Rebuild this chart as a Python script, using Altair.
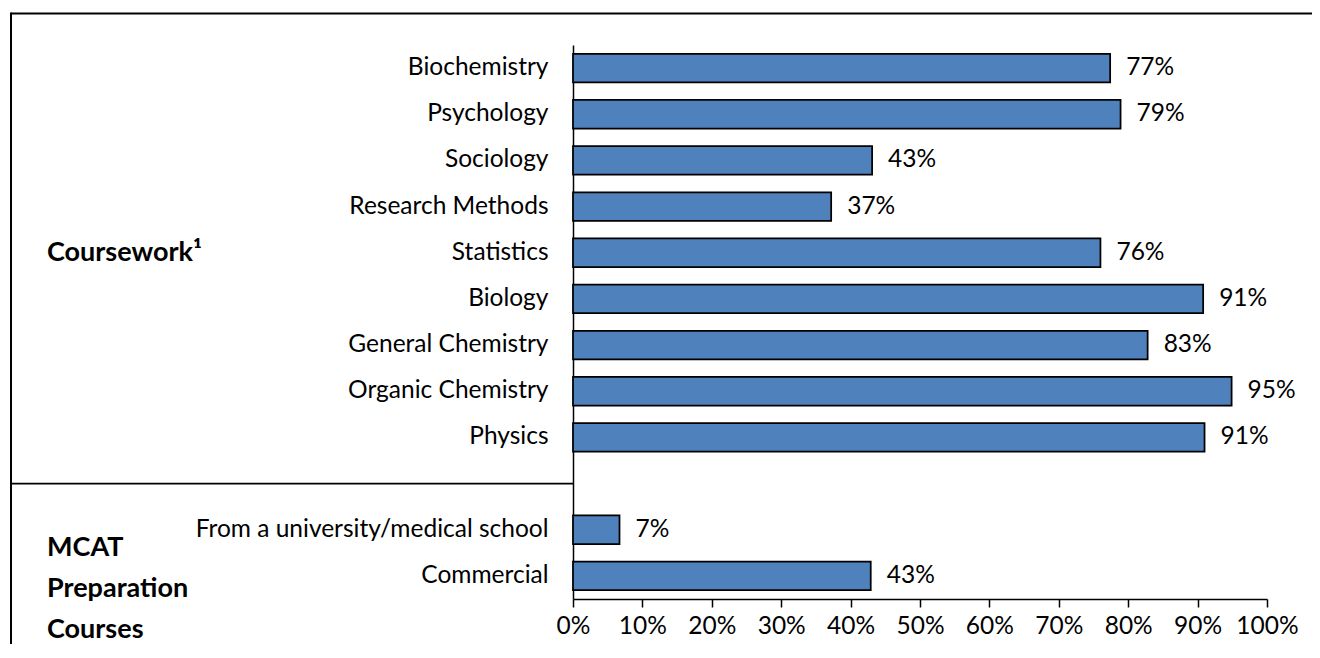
import altair as alt
import pandas as pd

categories = ["Biochemistry", "Psychology", "Sociology", "Research Methods", "Statistics",
              "Biology", "General Chemistry", "Organic Chemistry", "Physics",
              "From a university/medical school", "Commercial"]
values = [77.4, 78.9, 43.1, 37.2, 76.0, 90.8, 82.8, 94.9, 91.0, 6.7, 42.9]
labels = ["77%", "79%", "43%", "37%", "76%", "91%", "83%", "95%", "91%", "7%", "43%"]
blank = " "
domain = categories[:9] + [blank] + categories[9:]
x_ticks = [0, 10, 20, 30, 40, 50, 60, 70, 80, 90, 100]
group_names = ["Coursework¹", "MCAT\nPreparation\nCourses"]
group_anchor = ["Statistics", "Commercial"]

FONT = "Lato"
FS = 24.5
FSB = 27

df = pd.DataFrame({"category": categories, "value": values, "label": labels})
gdf = pd.DataFrame({"name": group_names, "anchor": group_anchor})
one = pd.DataFrame({"a": [0]})

yscale = alt.Scale(domain=domain, paddingInner=0.38, paddingOuter=0.19)
xscale = alt.Scale(domain=[0, 100], nice=False)

bars = alt.Chart(df).mark_bar(color="#4F81BD", stroke="black", strokeWidth=1.75).encode(
    x=alt.X("value:Q", scale=xscale,
            axis=alt.Axis(values=x_ticks, labelExpr="datum.value + '%'", title=None, grid=False,
                          tickSize=8, tickColor="black", tickWidth=1.5, domainColor="black",
                          domainWidth=1.5, labelFontSize=FS, labelFont=FONT, labelColor="black",
                          labelPadding=7, labelFlush=False, labelOverlap=False)),
    y=alt.Y("category:N", scale=yscale, sort=domain,
            axis=alt.Axis(title=None, ticks=False, domainColor="black", domainWidth=1.5,
                          labelFontSize=FS, labelFont=FONT, labelColor="black",
                          labelPadding=25, labelLimit=600)),
)

vlabels = alt.Chart(df).mark_text(align="left", baseline="middle", dx=16, fontSize=FS,
                                  font=FONT, color="black").encode(
    x=alt.X("value:Q", scale=xscale),
    y=alt.Y("category:N", scale=yscale, sort=domain),
    text="label:N",
)

course = alt.Chart(gdf.iloc[[0]]).mark_text(align="left", baseline="middle", fontSize=FSB,
                                            font=FONT, fontWeight="bold", color="black").encode(
    x=alt.value(-526),
    y=alt.Y("anchor:N", scale=yscale, sort=domain),
    text="name:N",
)
mcat = alt.Chart(gdf.iloc[[1]]).mark_text(align="left", baseline="middle", fontSize=FSB,
                                          font=FONT, fontWeight="bold", color="black",
                                          lineBreak="\n", lineHeight=41, dy=-28).encode(
    x=alt.value(-526),
    y=alt.Y("anchor:N", scale=yscale, sort=domain),
    text="name:N",
)

sep = alt.Chart(pd.DataFrame({"c": [blank]})).mark_rule(color="black", strokeWidth=1.75).encode(
    y=alt.Y("c:N", scale=yscale, sort=domain),
    x=alt.value(-562), x2=alt.value(0),
)
top_border = alt.Chart(one).mark_rule(color="black", strokeWidth=2).encode(
    y=alt.value(-31.5), x=alt.value(-562), x2=alt.value(760))
left_border = alt.Chart(one).mark_rule(color="black", strokeWidth=2).encode(
    x=alt.value(-562), y=alt.value(-32.5), y2=alt.value(640))

chart = alt.layer(bars, vlabels, course, mcat, sep, top_border, left_border).properties(
    width=694, height=554,
    autosize=alt.AutoSizeParams(type="none"),
    padding={"left": 565, "top": 37, "right": 45, "bottom": 45},
).configure(background="white").configure_view(stroke=None)

chart.save("out.html", embed_options={"renderer": "svg", "actions": False})
